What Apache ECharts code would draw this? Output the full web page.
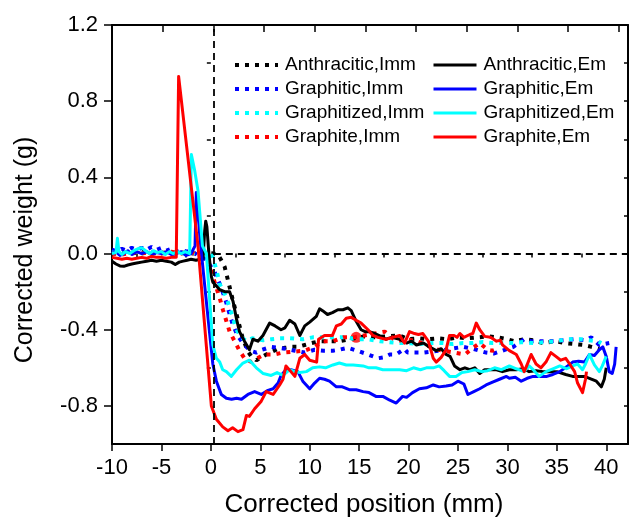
<!DOCTYPE html>
<html>
<head>
<meta charset="utf-8">
<script src="https://cdn.jsdelivr.net/npm/echarts@6/dist/echarts.min.js"></script>
<style>
  html, body { margin: 0; padding: 0; background: #fff; }
  #chart { width: 636px; height: 519px; }
</style>
</head>
<body>
<div id="chart"></div>
<script>
// Immersion runs (dotted) and emersion runs (solid): [position mm, weight g]
const anthraciticImm = [[-10,0.0],[-9,0.005],[-8,0.0],[-7,0.01],[-6,0.0],[-5,0.005],[-4,0.0],[-3,0.005],[-2,0.0],[-1,0.005],[0.3,0.0],[0.72,-0.005],[1.0,-0.03],[1.4,-0.07],[1.73,-0.14],[2.2,-0.24],[2.7,-0.34],[3.2,-0.44],[3.7,-0.51],[4.1,-0.54],[4.6,-0.56],[5.1,-0.545],[5.6,-0.53],[6.2,-0.515],[6.8,-0.5],[7.5,-0.495],[8.2,-0.49],[8.8,-0.49],[9.5,-0.48],[10.2,-0.47],[11.0,-0.46],[12.0,-0.46],[13.0,-0.46],[14.0,-0.45],[15.5,-0.435],[16.5,-0.44],[17.7,-0.435],[19.1,-0.43],[20.0,-0.45],[21.0,-0.445],[22.0,-0.45],[23.0,-0.445],[24.0,-0.45],[25.0,-0.44],[26.0,-0.445],[27.0,-0.44],[28.2,-0.435],[29.0,-0.44],[30.0,-0.45],[30.7,-0.46],[31.7,-0.45],[32.6,-0.455],[33.6,-0.47],[34.8,-0.46],[35.8,-0.47],[36.8,-0.475],[37.7,-0.48],[38.5,-0.49],[39.3,-0.5]];

const graphiticImm = [[-10,0.02],[-9.5,0.01],[-9,0.025],[-8.5,0.015],[-8,0.03],[-7.5,0.02],[-7,0.03],[-6.5,0.02],[-6,0.035],[-5.5,0.02],[-5,0.03],[-4.5,0.015],[-4,0.025],[-3.5,0.01],[-3,0.02],[-2.5,0.01],[-2,0.015],[-1.3,-0.01],[-0.5,-0.03],[0.4,-0.1],[0.9,-0.16],[1.4,-0.23],[1.8,-0.3],[2.2,-0.37],[2.7,-0.43],[3.3,-0.475],[4.0,-0.51],[4.6,-0.52],[5.2,-0.505],[6.1,-0.49],[6.9,-0.495],[7.6,-0.5],[8.5,-0.51],[9.5,-0.52],[10.5,-0.505],[11.4,-0.51],[12.35,-0.51],[13.0,-0.505],[13.86,-0.495],[14.8,-0.51],[15.9,-0.53],[16.9,-0.55],[17.5,-0.545],[18.1,-0.53],[18.75,-0.53],[19.6,-0.5],[19.9,-0.52],[20.8,-0.52],[21.5,-0.52],[22.3,-0.515],[23.1,-0.51],[24.3,-0.5],[25.5,-0.49],[26.5,-0.5],[27.85,-0.52],[28.6,-0.525],[29.5,-0.51],[30.6,-0.49],[31.7,-0.45],[32.4,-0.46],[33.4,-0.46],[34.5,-0.46],[35.8,-0.455],[36.8,-0.45],[37.8,-0.455],[38.5,-0.44],[39.3,-0.48],[40.3,-0.47]];

const graphitizedImm = [[-10,0.005],[-9,0.0],[-8,0.01],[-7,0.0],[-6,0.01],[-5,0.0],[-4,0.005],[-3,0.0],[-2,0.005],[-1,0.0],[-0.1,0.0],[0.2,-0.02],[0.56,-0.085],[0.9,-0.16],[1.57,-0.23],[1.9,-0.285],[2.24,-0.34],[2.58,-0.4],[3.1,-0.44],[3.6,-0.46],[4.2,-0.445],[5.3,-0.455],[6.1,-0.45],[7.0,-0.445],[8.0,-0.445],[9.3,-0.45],[10.3,-0.44],[11.5,-0.44],[12.5,-0.44],[13.7,-0.44],[14.7,-0.45],[15.8,-0.45],[17.1,-0.46],[18.0,-0.465],[19.0,-0.47],[20.0,-0.47],[21.0,-0.475],[22.6,-0.47],[23.5,-0.47],[24.5,-0.475],[25.5,-0.47],[26.5,-0.47],[27.5,-0.465],[28.5,-0.47],[29.5,-0.47],[30.5,-0.47],[31.5,-0.465],[32.7,-0.47],[33.8,-0.465],[34.9,-0.46],[36.0,-0.45],[37.3,-0.45],[38.2,-0.455],[39.1,-0.46],[39.5,-0.47]];

const graphiteImm = [[-10,0.0],[-9,-0.005],[-8,0.005],[-7,0.0],[-6,0.01],[-5,0.0],[-4,0.01],[-3,0.0],[-2,0.01],[-1.3,-0.01],[-0.3,-0.03],[0.2,-0.12],[0.56,-0.18],[0.9,-0.235],[1.22,-0.295],[1.57,-0.355],[1.9,-0.41],[2.4,-0.46],[2.9,-0.51],[3.4,-0.55],[4.1,-0.57],[4.7,-0.55],[5.4,-0.53],[6.4,-0.53],[7.3,-0.52],[8.4,-0.515],[9.5,-0.51],[10.5,-0.49],[11.3,-0.46],[12.35,-0.46],[13.4,-0.44],[14.5,-0.44],[15.5,-0.43],[16.6,-0.42],[17.6,-0.41],[18.75,-0.46],[19.8,-0.45],[20.8,-0.46],[21.8,-0.48],[22.6,-0.5],[23.5,-0.51],[24.6,-0.52],[25.7,-0.53],[26.4,-0.5],[27.2,-0.47],[28.0,-0.505],[28.5,-0.51],[29.0,-0.5]];

const graphiteImmMarker = [[14.7,-0.44]];

const anthraciticEm = [[-10,-0.04],[-9.6,-0.055],[-9.2,-0.065],[-8.8,-0.067],[-8.4,-0.06],[-8.0,-0.055],[-7.5,-0.05],[-7.0,-0.045],[-6.5,-0.04],[-6.0,-0.035],[-5.5,-0.04],[-5.0,-0.035],[-4.5,-0.04],[-4.0,-0.045],[-3.6,-0.058],[-3.2,-0.045],[-2.8,-0.04],[-2.4,-0.035],[-2.0,-0.03],[-1.5,-0.035],[-1.1,-0.03],[-0.8,-0.03],[-0.62,0.12],[-0.52,0.17],[-0.4,0.14],[-0.2,0.0],[0.05,-0.12],[0.2,-0.15],[0.56,-0.17],[0.9,-0.19],[1.4,-0.2],[1.9,-0.2],[2.24,-0.25],[2.58,-0.34],[2.9,-0.41],[3.4,-0.46],[3.9,-0.505],[4.26,-0.45],[4.76,-0.46],[5.27,-0.43],[5.95,-0.365],[6.5,-0.38],[7.1,-0.4],[7.5,-0.39],[7.97,-0.35],[8.5,-0.37],[9.0,-0.43],[9.5,-0.38],[10.0,-0.36],[10.67,-0.33],[11.0,-0.29],[11.3,-0.3],[11.8,-0.32],[12.3,-0.31],[12.85,-0.295],[13.36,-0.295],[13.86,-0.285],[14.2,-0.3],[14.7,-0.356],[15.2,-0.4],[15.6,-0.41],[16.0,-0.41],[16.6,-0.42],[17.2,-0.435],[17.7,-0.45],[18.3,-0.44],[19.1,-0.45],[19.8,-0.47],[20.3,-0.46],[20.8,-0.48],[21.5,-0.47],[22.1,-0.49],[22.8,-0.51],[23.3,-0.5],[23.8,-0.53],[24.2,-0.54],[24.65,-0.59],[25.2,-0.61],[25.7,-0.6],[26.2,-0.61],[26.7,-0.6],[27.2,-0.63],[27.7,-0.61],[28.2,-0.61],[28.9,-0.61],[29.5,-0.62],[30.2,-0.61],[30.9,-0.61],[31.6,-0.605],[32.2,-0.62],[32.9,-0.615],[33.6,-0.62],[34.3,-0.62],[35.0,-0.62],[35.9,-0.635],[36.6,-0.645],[37.3,-0.645],[37.8,-0.645],[38.3,-0.655],[39.0,-0.67],[39.5,-0.7],[39.8,-0.66],[40.0,-0.6]];

const graphiticEm = [[-10,0.0],[-9.6,0.01],[-9.2,-0.01],[-8.8,0.0],[-8.4,0.015],[-8.0,-0.005],[-7.5,0.01],[-7.0,0.0],[-6.5,0.01],[-6.0,-0.005],[-5.5,0.005],[-5.0,0.0],[-4.5,0.01],[-4.0,-0.005],[-3.5,0.0],[-3.0,0.01],[-2.5,-0.01],[-2.0,0.0],[-1.6,0.04],[-1.47,0.32],[-1.3,0.22],[-1.1,0.08],[-0.95,0.0],[-0.4,-0.28],[0.2,-0.58],[0.56,-0.67],[1.06,-0.74],[1.57,-0.76],[2.1,-0.765],[2.6,-0.76],[3.1,-0.765],[3.75,-0.74],[4.43,-0.725],[5.1,-0.74],[5.7,-0.72],[6.3,-0.71],[6.8,-0.68],[7.1,-0.64],[7.6,-0.61],[8.1,-0.61],[8.8,-0.62],[9.3,-0.67],[10.0,-0.71],[10.5,-0.68],[11.0,-0.655],[11.5,-0.66],[12.0,-0.67],[12.7,-0.7],[13.3,-0.7],[14.0,-0.715],[14.7,-0.715],[15.4,-0.725],[16.0,-0.73],[16.7,-0.75],[17.4,-0.75],[18.1,-0.77],[18.75,-0.785],[19.4,-0.75],[19.8,-0.755],[20.4,-0.73],[21.1,-0.71],[21.8,-0.705],[22.5,-0.69],[23.1,-0.7],[23.8,-0.695],[24.4,-0.69],[25.0,-0.67],[25.6,-0.685],[26.0,-0.74],[26.6,-0.725],[27.2,-0.71],[27.85,-0.69],[28.5,-0.675],[29.2,-0.66],[29.9,-0.645],[30.2,-0.655],[30.8,-0.65],[31.4,-0.67],[32.0,-0.655],[32.6,-0.645],[33.3,-0.645],[34.0,-0.645],[34.6,-0.635],[35.3,-0.62],[36.1,-0.59],[36.6,-0.57],[37.2,-0.565],[37.8,-0.57],[38.3,-0.53],[38.8,-0.535],[39.3,-0.505],[39.65,-0.49],[40.0,-0.54],[40.3,-0.62],[40.6,-0.63],[40.85,-0.58],[41.0,-0.49]];

const graphitizedEm = [[-10,0.0],[-9.6,0.005],[-9.45,0.08],[-9.3,0.01],[-9.0,-0.005],[-8.6,0.01],[-8.2,0.0],[-7.8,0.015],[-7.4,0.025],[-7.0,0.03],[-6.6,0.015],[-6.2,0.0],[-5.8,0.015],[-5.4,0.005],[-5.0,0.01],[-4.6,-0.005],[-4.2,0.01],[-3.8,0.0],[-3.4,0.01],[-3.0,0.0],[-2.6,0.01],[-2.14,0.0],[-1.97,0.52],[-1.65,0.44],[-1.3,0.33],[-0.85,0.04],[-0.45,0.0],[0.05,-0.37],[0.2,-0.48],[0.56,-0.55],[0.9,-0.57],[1.2,-0.61],[1.57,-0.62],[2.07,-0.645],[2.6,-0.61],[3.25,-0.575],[3.9,-0.56],[4.6,-0.6],[5.3,-0.63],[6.1,-0.64],[6.7,-0.625],[7.3,-0.64],[7.97,-0.61],[8.5,-0.62],[9.0,-0.625],[9.66,-0.62],[10.3,-0.6],[11.0,-0.595],[11.6,-0.6],[12.35,-0.585],[13.0,-0.575],[13.7,-0.585],[14.4,-0.585],[15.4,-0.59],[16.0,-0.6],[16.7,-0.6],[17.4,-0.61],[18.1,-0.61],[18.7,-0.61],[19.1,-0.61],[19.8,-0.615],[20.5,-0.6],[21.2,-0.61],[21.8,-0.6],[22.5,-0.6],[23.1,-0.59],[23.6,-0.615],[24.15,-0.645],[24.8,-0.645],[25.4,-0.625],[26.0,-0.62],[26.7,-0.61],[27.4,-0.62],[28.0,-0.615],[28.7,-0.6],[29.4,-0.61],[30.2,-0.59],[30.9,-0.605],[31.7,-0.62],[32.2,-0.59],[32.7,-0.615],[33.2,-0.645],[33.9,-0.62],[34.6,-0.605],[35.3,-0.59],[36.0,-0.605],[36.6,-0.59],[37.1,-0.58],[37.6,-0.61],[37.9,-0.58],[38.3,-0.53],[38.8,-0.585],[39.3,-0.62],[39.6,-0.59],[40.0,-0.54]];

const graphiteEm = [[-10,-0.02],[-9.5,-0.025],[-9.0,-0.03],[-8.5,-0.025],[-8.0,-0.03],[-7.5,-0.025],[-7.0,-0.02],[-6.5,-0.025],[-6.0,-0.015],[-5.5,-0.02],[-5.0,-0.02],[-4.5,-0.025],[-4.0,-0.02],[-3.5,-0.02],[-3.26,0.93],[-1.3,0.04],[0.05,-0.8],[0.56,-0.87],[1.2,-0.91],[1.73,-0.93],[2.2,-0.915],[2.74,-0.935],[3.25,-0.925],[3.6,-0.85],[3.9,-0.855],[4.43,-0.815],[5.1,-0.775],[5.6,-0.725],[6.3,-0.74],[6.96,-0.69],[7.3,-0.66],[7.6,-0.59],[8.1,-0.62],[8.5,-0.645],[9.0,-0.55],[9.5,-0.53],[10.0,-0.56],[10.7,-0.57],[10.9,-0.45],[11.5,-0.43],[12.3,-0.43],[12.7,-0.38],[13.2,-0.37],[13.7,-0.34],[14.2,-0.335],[14.7,-0.35],[15.2,-0.365],[15.9,-0.4],[16.4,-0.43],[16.9,-0.44],[17.7,-0.45],[18.4,-0.44],[19.1,-0.43],[19.6,-0.47],[20.1,-0.41],[20.6,-0.42],[21.0,-0.425],[21.45,-0.42],[22.0,-0.46],[22.5,-0.55],[22.8,-0.57],[23.3,-0.545],[23.8,-0.505],[24.15,-0.43],[24.6,-0.43],[24.9,-0.44],[25.2,-0.42],[25.6,-0.44],[26.2,-0.425],[26.5,-0.42],[26.85,-0.365],[27.2,-0.4],[27.7,-0.435],[28.3,-0.44],[28.9,-0.46],[29.3,-0.455],[29.5,-0.48],[30.2,-0.51],[30.9,-0.53],[31.4,-0.58],[31.7,-0.62],[32.06,-0.575],[32.4,-0.53],[32.9,-0.58],[33.4,-0.6],[33.9,-0.57],[34.4,-0.52],[34.9,-0.54],[35.4,-0.56],[35.9,-0.55],[36.3,-0.58],[36.8,-0.62],[37.1,-0.68],[37.6,-0.73],[37.9,-0.66],[38.0,-0.62]];

// Axis ranges and tick values
const xMin = -10, xMax = 42.2, xTopMax = 40.9;
const yMin = -1.0, yMax = 1.2;
const xMajorTicks = [-10, -5, 0, 5, 10, 15, 20, 25, 30, 35, 40];
const xMinorTicks = [-7.5, -2.5, 2.5, 7.5, 12.5, 17.5, 22.5, 27.5, 32.5, 37.5];
const yMajorTicks = [-0.8, -0.4, 0.0, 0.4, 0.8, 1.2];
const yMinorTicks = [-1.0, -0.6, -0.2, 0.2, 0.6, 1.0];
const yAllTicks = [-1.0, -0.8, -0.6, -0.4, -0.2, 0.0, 0.2, 0.4, 0.6, 0.8, 1.0, 1.2];

// Dashed guides: contact position and zero weight
const contactX = 0.3;
const zeroWeight = 0.0;

const FONT = '"Liberation Sans", Arial, sans-serif';
const BLACK = '#000000', BLUE = '#0000ff', CYAN = '#00ffff', RED = '#ff0000';

function immSeries(name, color, data) {
  return {
    name, type: 'line', data, color, xAxisIndex: 0, yAxisIndex: 0,
    symbol: 'none', showSymbol: false, silent: true,
    lineStyle: { color, width: 4, type: [4, 6], cap: 'butt' }
  };
}
function emSeries(name, color, data) {
  return {
    name, type: 'line', data, color, xAxisIndex: 0, yAxisIndex: 0,
    symbol: 'none', showSymbol: false, silent: true,
    lineStyle: { color, width: 3, join: 'round' }
  };
}

const axisLine = { show: true, onZero: false, lineStyle: { color: '#000', width: 2 } };

const legendBase = {
  orient: 'vertical', top: 50, itemWidth: 43, itemHeight: 14, itemGap: 4,
  itemStyle: { opacity: 0 },
  lineStyle: { width: 'inherit' },
  textStyle: { fontSize: 19, fontFamily: FONT, color: '#000', lineHeight: 20, padding: [0, 0, 0, 2] },
  selectedMode: false
};

const option = {
  animation: false,
  backgroundColor: '#fff',
  grid: { left: 112, right: 8, top: 25, bottom: 75, containLabel: false },
  xAxis: [
    {
      type: 'value', position: 'bottom', min: xMin, max: xMax,
      axisLine,
      axisTick: { show: true, inside: false, length: 7, customValues: xMajorTicks, lineStyle: { width: 1.5, color: '#000' } },
      axisLabel: { show: true, customValues: xMajorTicks, fontSize: 22, fontFamily: FONT, color: '#000', margin: 13,
                   formatter: v => String(v) },
      splitLine: { show: false }
    },
    {
      type: 'value', position: 'bottom', min: xMin, max: xMax,
      axisLine: { show: false },
      axisTick: { show: true, inside: false, length: 4, customValues: xMinorTicks, lineStyle: { width: 1.5, color: '#000' } },
      axisLabel: { show: false }, splitLine: { show: false }
    },
    {
      type: 'value', position: 'top', min: xMin, max: xTopMax,
      axisLine,
      axisTick: { show: true, inside: true, length: 7, customValues: xMajorTicks, lineStyle: { width: 1.5, color: '#000' } },
      axisLabel: { show: false }, splitLine: { show: false }
    }
  ],
  yAxis: [
    {
      type: 'value', position: 'left', min: yMin, max: yMax,
      axisLine,
      axisTick: { show: true, inside: false, length: 8, customValues: yMajorTicks, lineStyle: { width: 1.5, color: '#000' } },
      axisLabel: { show: true, customValues: yMajorTicks, fontSize: 22, fontFamily: FONT, color: '#000', margin: 14,
                   formatter: v => v.toFixed(1) },
      splitLine: { show: false }
    },
    {
      type: 'value', position: 'left', min: yMin, max: yMax,
      axisLine: { show: false },
      axisTick: { show: true, inside: false, length: 4, customValues: yMinorTicks, lineStyle: { width: 1.5, color: '#000' } },
      axisLabel: { show: false }, splitLine: { show: false }
    },
    {
      type: 'value', position: 'right', min: yMin, max: yMax,
      axisLine,
      axisTick: { show: true, inside: true, length: 4, customValues: yAllTicks, lineStyle: { width: 1.5, color: '#000' } },
      axisLabel: { show: false }, splitLine: { show: false }
    }
  ],
  legend: [
    Object.assign({}, legendBase, {
      left: 228,
      data: ['Anthracitic,Imm', 'Graphitic,Imm', 'Graphitized,Imm', 'Graphite,Imm']
    }),
    Object.assign({}, legendBase, {
      left: 427,
      data: ['Anthracitic,Em', 'Graphitic,Em', 'Graphitized,Em', 'Graphite,Em']
    })
  ],
  graphic: [
    {
      type: 'text', x: 364, y: 505,
      style: { text: 'Corrected position (mm)', fontSize: 26, fontFamily: FONT, fill: '#000',
               textAlign: 'center', textVerticalAlign: 'middle' }
    },
    {
      type: 'text', x: 25, y: 250, rotation: Math.PI / 2,
      style: { text: 'Corrected weight (g)', fontSize: 25, fontFamily: FONT, fill: '#000',
               textAlign: 'center', textVerticalAlign: 'middle' }
    }
  ],
  series: [
    {
      name: 'guides', type: 'line', data: [], xAxisIndex: 0, yAxisIndex: 0, silent: true,
      markLine: {
        silent: true, symbol: 'none', animation: false, label: { show: false },
        lineStyle: { color: '#000', width: 1.8, type: [7, 5] },
        data: [
          { xAxis: contactX },
          [{ coord: [contactX, zeroWeight] }, { coord: [xMax, zeroWeight] }]
        ]
      }
    },
    immSeries('Anthracitic,Imm', BLACK, anthraciticImm),
    immSeries('Graphitic,Imm', BLUE, graphiticImm),
    immSeries('Graphitized,Imm', CYAN, graphitizedImm),
    immSeries('Graphite,Imm', RED, graphiteImm),
    {
      name: 'Graphite,Imm point', type: 'scatter', data: graphiteImmMarker, xAxisIndex: 0, yAxisIndex: 0,
      symbol: 'circle', symbolSize: 11, itemStyle: { color: RED }, silent: true
    },
    emSeries('Anthracitic,Em', BLACK, anthraciticEm),
    emSeries('Graphitic,Em', BLUE, graphiticEm),
    emSeries('Graphitized,Em', CYAN, graphitizedEm),
    emSeries('Graphite,Em', RED, graphiteEm)
  ]
};

const chart = echarts.init(document.getElementById('chart'), null, { renderer: 'canvas' });
chart.setOption(option);
</script>
</body>
</html>
